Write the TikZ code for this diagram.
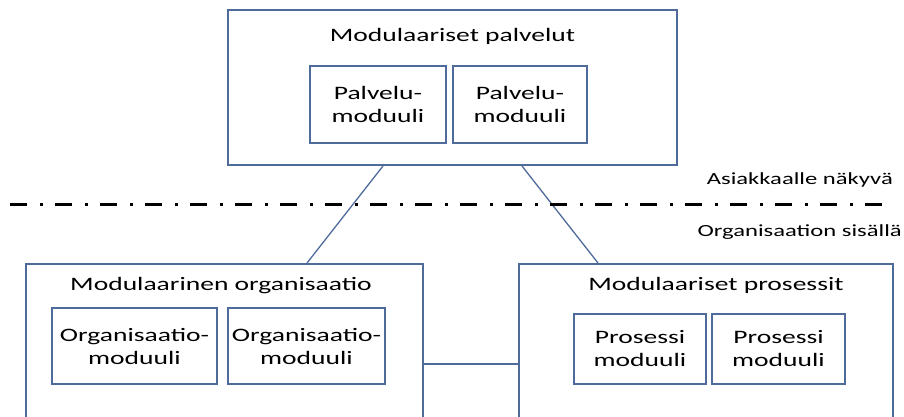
\documentclass[tikz,border=0pt]{standalone}
\usepackage{fontspec}
\setmainfont{Carlito}[FakeStretch=1.45]
\definecolor{boxblue}{RGB}{79,107,155}
\begin{document}
\begin{tikzpicture}[x=1pt,y=-1pt,
    box/.style={draw=boxblue, line width=2pt, inner sep=0pt, align=center,
      font=\fontsize{19}{23}\selectfont},
    title/.style={inner sep=0pt, anchor=base, font=\fontsize{19}{23}\selectfont},
    side/.style={inner sep=0pt, font=\fontsize{17}{21}\selectfont},
    link/.style={draw=boxblue, line width=1.3pt},
    raja/.style={line width=3pt, dash pattern=on 17pt off 13pt on 3pt off 12pt}]
      \useasboundingbox (0,0) rectangle (904,416);
      \clip (0,0) rectangle (904,416);
      % palvelut
      \node[box, minimum width=449pt, minimum height=155pt] (palv) at (452.5,87.5) {};
      \node[title] (tpalv) at (452.5,41) {Modulaariset palvelut};
      \node[box, minimum width=136pt, minimum height=77pt] (pm1) at (378,104.5) {Palvelu-\\moduuli};
      \node[box, minimum width=134pt, minimum height=77pt] (pm2) at (520,104.5) {Palvelu-\\moduuli};
      % organisaatio
      \node[box, minimum width=397pt, minimum height=200pt] (org) at (224.5,364) {};
      \node[title] (torg) at (221,290) {Modulaarinen organisaatio};
      \node[box, minimum width=165pt, minimum height=76pt] (om1) at (134.5,346) {Organisaatio-\\moduuli};
      \node[box, minimum width=157pt, minimum height=76pt] (om2) at (306.5,346) {Organisaatio-\\moduuli};
      % prosessit
      \node[box, minimum width=374pt, minimum height=200pt] (proc) at (706,364) {};
      \node[title] (tproc) at (716,290) {Modulaariset prosessit};
      \node[box, minimum width=132pt, minimum height=70pt] (pr1) at (640,349) {Prosessi\\moduuli};
      \node[box, minimum width=133pt, minimum height=70pt] (pr2) at (778.5,349) {Prosessi\\moduuli};
      % yhteydet
      \draw[link] ([xshift=-69.5pt]palv.south) -- ([xshift=82.5pt]org.north);
      \draw[link] ([xshift=69.5pt]palv.south) -- ([xshift=-108pt]proc.north);
      \draw[link] (org.east) -- (proc.west);
      % raja
      \coordinate (rajaA) at (10,204);
      \coordinate (rajaB) at (882,204);
      \draw[raja] (rajaA) -- (rajaB);
      \node[side, anchor=base east] (nakyva) at (893,184) {Asiakkaalle näkyvä};
      \node[side, anchor=base east] (sisalla) at (902,236) {Organisaation sisällä};
    \end{tikzpicture}
\end{document}
